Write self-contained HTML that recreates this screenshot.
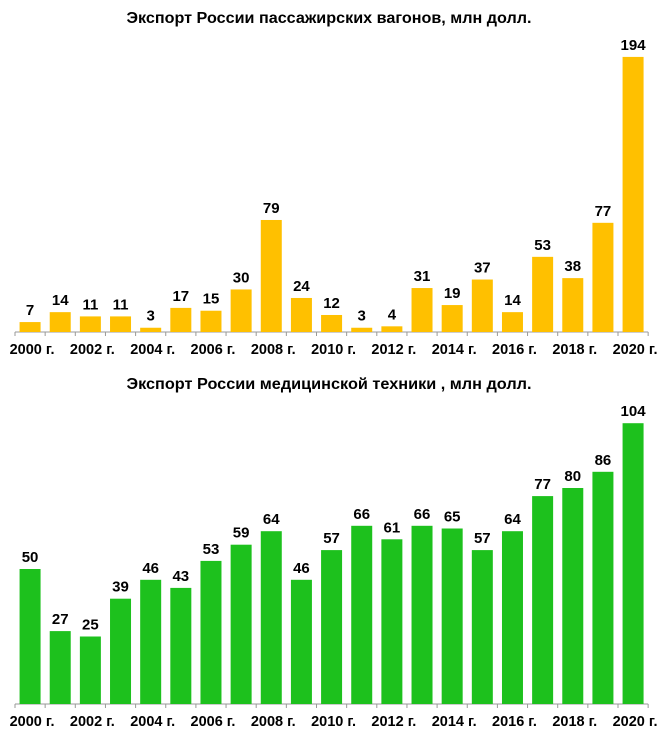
<!DOCTYPE html>
<html><head><meta charset="utf-8"><style>
body{margin:0;background:#fff;}
svg text{font-family:"Liberation Sans",sans-serif;font-weight:bold;fill:#000;}
</style></head><body>
<svg id="c" width="660" height="738"></svg>
<script>
const years=[2000,2001,2002,2003,2004,2005,2006,2007,2008,2009,2010,2011,2012,2013,2014,2015,2016,2017,2018,2019,2020];
const wagons=[7,14,11,11,3,17,15,30,79,24,12,3,4,31,19,37,14,53,38,77,194];
const medical=[50,27,25,39,46,43,53,59,64,46,57,66,61,66,65,57,64,77,80,86,104];
const titles=["Экспорт России пассажирских вагонов, млн долл.","Экспорт России медицинской техники , млн долл."];
const svg=document.getElementById('c');
const NS='http://www.w3.org/2000/svg';
function mk(tag,attrs,parent){const e=document.createElementNS(NS,tag);for(const k in attrs)e.setAttribute(k,attrs[k]);parent.appendChild(e);return e;}
function chart(vals,base,scale,color,title,titleY,name){
  const g=mk('g',{},svg);
  
  
  const t=mk('text',{x:329,y:titleY,'text-anchor':'middle','font-size':16,textLength:405,lengthAdjust:'spacingAndGlyphs'},g);
  
  
  t.textContent=title;
  const x0=15,pitch=30.15,bw=21;
  const ax=mk('line',{x1:x0,x2:x0+pitch*vals.length,y1:base,y2:base,stroke:'#999','stroke-width':1},g);
  
  
  for(let i=0;i<=vals.length;i++){
    const tk=mk('line',{x1:x0+i*pitch,x2:x0+i*pitch,y1:base,y2:base+4,stroke:'#999'},g);
    
    
  }
  vals.forEach((v,i)=>{
    const cx=x0+pitch*(i+0.5),h=v*scale;
    const r=mk('rect',{x:cx-bw/2,y:base-h,width:bw,height:h,fill:color},g);
    
    
    const l=mk('text',{x:cx,y:base-h-7,'text-anchor':'middle','font-size':15},g);
    
    
    l.textContent=v;
    if(i%2===0){
      const yl=mk('text',{x:cx+2,y:base+22,'text-anchor':'middle','font-size':14.5},g);
      
      
      yl.textContent=years[i]+' г.';
    }
  });
}
chart(wagons,332,1.418,'#FFC000',titles[0],23,'wagons-chart');
chart(medical,704,2.7,'#1DC11D',titles[1],389,'medical-chart');
</script>
</body></html>
